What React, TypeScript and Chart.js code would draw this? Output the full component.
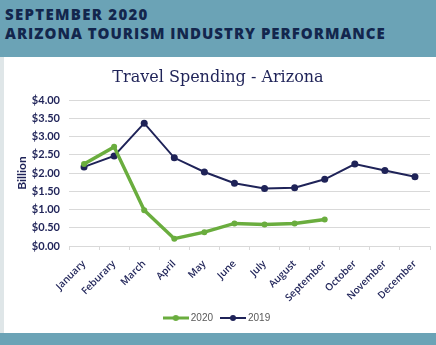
import React, { useEffect, useRef } from "react";
import { Chart, registerables } from "chart.js";

Chart.register(...registerables);

const months = [
  "January", "Feburary", "March", "April", "May", "June",
  "July", "August", "September", "October", "November", "December",
];
const spend2020 = [2.25, 2.72, 0.98, 0.2, 0.38, 0.62, 0.59, 0.62, 0.73];
const spend2019 = [2.17, 2.47, 3.37, 2.42, 2.03, 1.72, 1.58, 1.6, 1.83, 2.25, 2.07, 1.9];
const seriesNames = ["2020", "2019"];

const NAVY = "#1f2358";
const GREEN = "#6aad3e";
const BAND = "#6ba3b6";

function legendIcon(color: string, lw: number, r: number) {
  const c = document.createElement("canvas");
  c.width = 26;
  c.height = 10;
  const ctx = c.getContext("2d")!;
  ctx.strokeStyle = color;
  ctx.lineWidth = lw;
  ctx.beginPath();
  ctx.moveTo(0, 5);
  ctx.lineTo(26, 5);
  ctx.stroke();
  ctx.fillStyle = color;
  ctx.beginPath();
  ctx.arc(13, 5, r, 0, Math.PI * 2);
  ctx.fill();
  return c;
}

function TravelChart() {
  const ref = useRef<HTMLCanvasElement | null>(null);
  useEffect(() => {
    if (!ref.current) return;
    const icons = [legendIcon(GREEN, 3, 3), legendIcon(NAVY, 2, 3)];
    const chart = new Chart(ref.current, {
      type: "line",
      data: {
        labels: months,
        datasets: [
          {
            label: seriesNames[0],
            data: spend2020,
            borderColor: GREEN,
            backgroundColor: GREEN,
            borderWidth: 3.5,
            pointRadius: 3,
            pointBorderWidth: 0,
            pointHoverRadius: 3,
            tension: 0,
          },
          {
            label: seriesNames[1],
            data: spend2019,
            borderColor: NAVY,
            backgroundColor: NAVY,
            borderWidth: 2,
            pointRadius: 3.5,
            pointBorderWidth: 0,
            pointHoverRadius: 3.5,
            tension: 0,
          },
        ],
      },
      options: {
        responsive: false,
        animation: false,
        layout: { padding: { left: 2, right: 6, top: 6, bottom: 0 } },
        plugins: {
          tooltip: { enabled: false },
          title: {
            display: true,
            text: "Travel Spending - Arizona",
            color: NAVY,
            font: { family: "DejaVu Serif", size: 16, weight: "normal" },
            padding: { top: 5, bottom: 13 },
          },
          legend: {
            position: "bottom",
            labels: {
              usePointStyle: true,
              pointStyleWidth: 20,
              color: "#595959",
              font: { family: "Liberation Sans", size: 10 },
              padding: 10,
              generateLabels: (ch: any) =>
                ch.data.datasets.map((ds: any, i: number) => ({
                  text: ds.label,
                  pointStyle: icons[i],
                  fillStyle: ds.borderColor,
                  strokeStyle: ds.borderColor,
                  fontColor: "#595959",
                  lineWidth: 0,
                  hidden: false,
                  datasetIndex: i,
                })),
            },
          },
        },
        scales: {
          x: {
            offset: true,
            afterFit: (scale: any) => {
              scale.paddingLeft = 0;
              scale.paddingRight = 0;
              scale.height -= 9;
            },
            grid: {
              display: true,
              offset: true,
              drawOnChartArea: false,
              drawTicks: true,
              tickLength: 4,
              color: "#d9d9d9",
            },
            border: { display: true, color: "#d9d9d9" },
            ticks: {
              maxRotation: 45,
              minRotation: 45,
              color: NAVY,
              font: { family: "Open Sans", size: 10, weight: "600" },
              padding: 8,
              autoSkip: false,
            },
          },
          y: {
            min: 0,
            max: 4,
            afterFit: (scale: any) => {
              scale.width = 63;
            },
            grid: { color: "#d9d9d9", drawTicks: false },
            border: { display: false },
            ticks: {
              stepSize: 0.5,
              color: NAVY,
              font: { family: "Lato", size: 11, weight: "bold" },
              padding: 9,
              callback: (v: any) => "$" + Number(v).toFixed(2),
            },
            title: {
              display: true,
              text: "Billion",
              color: NAVY,
              font: { family: "Lato", size: 12, weight: "bold" },
              padding: { top: 9, bottom: 0 },
            },
          },
        },
      },
    });
    return () => chart.destroy();
  }, []);
  return <canvas ref={ref} width={432} height={276} style={{ display: "block" }} />;
}

export default function App() {
  return (
    <div
      style={{
        position: "fixed",
        left: 0,
        top: 0,
        width: 436,
        height: 345,
        background: "#ffffff",
        overflow: "hidden",
      }}
    >
      <div
        style={{
          position: "absolute",
          left: 0,
          top: 0,
          width: 436,
          height: 57,
          background: BAND,
          color: "#13264d",
          fontFamily: "'Open Sans', sans-serif",
          fontWeight: 800,
          fontSize: 15,
          letterSpacing: 1,
          lineHeight: "18.5px",
          whiteSpace: "nowrap",
        }}
      >
        <div style={{ position: "absolute", left: 5, top: 5, letterSpacing: 1.3 }}>SEPTEMBER 2020</div>
        <div style={{ position: "absolute", left: 5, top: 24 }}>ARIZONA TOURISM INDUSTRY PERFORMANCE</div>
      </div>
      <div
        style={{
          position: "absolute",
          left: 0,
          top: 57,
          width: 4,
          height: 276,
          background: "#dfe6e8",
        }}
      />
      <div style={{ position: "absolute", left: 4, top: 57 }}>
        <TravelChart />
      </div>
      <div
        style={{
          position: "absolute",
          left: 0,
          top: 333,
          width: 436,
          height: 12,
          background: BAND,
        }}
      />
    </div>
  );
}
